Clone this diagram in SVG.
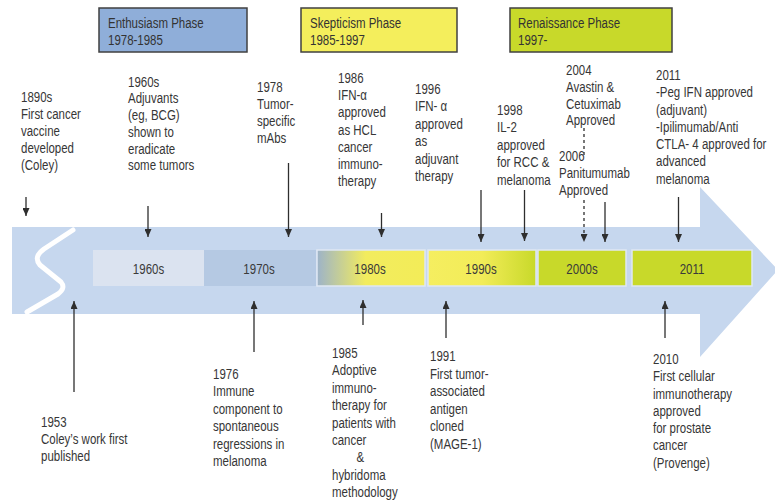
<svg xmlns="http://www.w3.org/2000/svg" width="775" height="502" viewBox="0 0 775 502">
<defs>
<style>
.t{font-family:"Liberation Sans",Arial,sans-serif;font-size:14px;fill:#363636}
.ph{font-family:"Liberation Sans",Arial,sans-serif;font-size:14px;fill:#333}
.bt{font-family:"Liberation Sans",Arial,sans-serif;font-size:14px;fill:#3a3a3a;text-anchor:middle}
.c{stroke:#2e2e2e;stroke-width:1.3;fill:none}
.d{stroke-dasharray:3,3}
.box{stroke:#404040;stroke-width:1.5}
</style>
<marker id="ah" markerUnits="userSpaceOnUse" markerWidth="8" markerHeight="7" refX="8" refY="3.5" orient="auto">
<path d="M0,0 L8,3.5 L0,7 z" fill="#2e2e2e"/>
</marker>
<linearGradient id="g80" x1="0" y1="0" x2="1" y2="0">
<stop offset="0" stop-color="#9db3c9"/>
<stop offset="0.45" stop-color="#f2ec5e"/>
<stop offset="1" stop-color="#f3ec58"/>
</linearGradient>
<linearGradient id="g90" x1="0" y1="0" x2="1" y2="0">
<stop offset="0" stop-color="#f5ee60"/>
<stop offset="0.5" stop-color="#f2ec58"/>
<stop offset="1" stop-color="#c8d92a"/>
</linearGradient>
</defs>
<rect width="775" height="502" fill="#fff"/>

<g id="timeline-arrow">
<path d="M12,227 L700,227 L700,187 L778,270 L700,357 L700,314 L12,314 Z" fill="#c6d7ee"/>
<path d="M73,230 L44,249 Q33,257 40,265 L61,282 Q66,288 58,294 L27,312" fill="none" stroke="#fff" stroke-width="5" stroke-linecap="round" stroke-linejoin="round"/>
</g>

<g id="bar-1960s"><rect x="93" y="250" width="111" height="36" fill="#dbe3f0"/><text class="bt" transform="matrix(0.82,0,0,1,148.5,273.5)">1960s</text></g>
<g id="bar-1970s"><rect x="204" y="250" width="112" height="36" fill="#b5c9e3"/><text class="bt" transform="matrix(0.82,0,0,1,259,273.5)">1970s</text></g>
<g id="bar-1980s"><rect x="317" y="250" width="108" height="36" fill="url(#g80)" stroke="#dfe8f3" stroke-width="1.5"/><text class="bt" transform="matrix(0.82,0,0,1,370,273.5)">1980s</text></g>
<g id="bar-1990s"><rect x="428" y="250" width="108" height="36" fill="url(#g90)" stroke="#dfe8f3" stroke-width="1.5"/><text class="bt" transform="matrix(0.82,0,0,1,481,273.5)">1990s</text></g>
<g id="bar-2000s"><rect x="538" y="250" width="88" height="36" fill="#c8d92a" stroke="#dfe8f3" stroke-width="1.5"/><text class="bt" transform="matrix(0.82,0,0,1,582,273.5)">2000s</text></g>
<g id="bar-2011"><rect x="632" y="250" width="120" height="36" fill="#c8d92a" stroke="#dfe8f3" stroke-width="1.5"/><text class="bt" transform="matrix(0.82,0,0,1,692,273.5)">2011</text></g>

<g id="phase-enthusiasm"><rect class="box" x="99" y="8" width="148" height="44" fill="#8faed9"/><text class="ph" transform="matrix(0.82,0,0,1,108,28)"><tspan x="0" y="0">Enthusiasm Phase</tspan><tspan x="0" y="17">1978-1985</tspan></text></g>
<g id="phase-skepticism"><rect class="box" x="301" y="8" width="156" height="44" fill="#f4ee5c"/><text class="ph" transform="matrix(0.82,0,0,1,310,28)"><tspan x="0" y="0">Skepticism Phase</tspan><tspan x="0" y="17">1985-1997</tspan></text></g>
<g id="phase-renaissance"><rect class="box" x="510" y="8" width="162" height="44" fill="#c8d92a"/><text class="ph" transform="matrix(0.82,0,0,1,518,28)"><tspan x="0" y="0">Renaissance Phase</tspan><tspan x="0" y="17">1997-</tspan></text></g>

<g id="ev-1890s"><text class="t" transform="matrix(0.82,0,0,1,21,102)"><tspan x="0" y="0">1890s</tspan><tspan x="0" dy="17">First  cancer</tspan><tspan x="0" dy="17">vaccine</tspan><tspan x="0" dy="17">developed</tspan><tspan x="0" dy="17">(Coley)</tspan></text></g>
<g id="ev-1960s"><text class="t" transform="matrix(0.82,0,0,1,128,86.5)"><tspan x="0" y="0">1960s</tspan><tspan x="0" dy="16.8">Adjuvants</tspan><tspan x="0" dy="16.8">(eg, BCG)</tspan><tspan x="0" dy="16.8">shown to</tspan><tspan x="0" dy="16.8">eradicate</tspan><tspan x="0" dy="16.8">some tumors</tspan></text></g>
<g id="ev-1978"><text class="t" transform="matrix(0.82,0,0,1,257,92)"><tspan x="0" y="0">1978</tspan><tspan x="0" dy="17">Tumor-</tspan><tspan x="0" dy="17">specific</tspan><tspan x="0" dy="17">mAbs</tspan></text></g>
<g id="ev-1986"><text class="t" transform="matrix(0.82,0,0,1,338,83)"><tspan x="0" y="0">1986</tspan><tspan x="0" dy="17.2">IFN-α</tspan><tspan x="0" dy="17.2">approved</tspan><tspan x="0" dy="17.2">as HCL</tspan><tspan x="0" dy="17.2">cancer</tspan><tspan x="0" dy="17.2">immuno-</tspan><tspan x="0" dy="17.2">therapy</tspan></text></g>
<g id="ev-1996"><text class="t" transform="matrix(0.82,0,0,1,415,94)"><tspan x="0" y="0">1996</tspan><tspan x="0" dy="17.4">IFN- α</tspan><tspan x="0" dy="17.4">approved</tspan><tspan x="0" dy="17.4">as</tspan><tspan x="0" dy="17.4">adjuvant</tspan><tspan x="0" dy="17.4">therapy</tspan></text></g>
<g id="ev-1998"><text class="t" transform="matrix(0.82,0,0,1,497,115)"><tspan x="0" y="0">1998</tspan><tspan x="0" dy="17.5">IL-2</tspan><tspan x="0" dy="17.5">approved</tspan><tspan x="0" dy="17.5">for RCC &amp;</tspan><tspan x="0" dy="17.5">melanoma</tspan></text></g>
<g id="ev-2004"><text class="t" transform="matrix(0.82,0,0,1,566,75)"><tspan x="0" y="0">2004</tspan><tspan x="0" dy="16.8">Avastin  &amp;</tspan><tspan x="0" dy="16.8">Cetuximab</tspan><tspan x="0" dy="16.8">Approved</tspan></text></g>
<g id="ev-2006"><text class="t" transform="matrix(0.82,0,0,1,559,161)"><tspan x="0" y="0">2006</tspan><tspan x="0" dy="17.2">Panitumumab</tspan><tspan x="0" dy="17.2">Approved</tspan></text></g>
<g id="ev-2011"><text class="t" transform="matrix(0.82,0,0,1,656,80)"><tspan x="0" y="0">2011</tspan><tspan x="0" dy="17.3">-Peg IFN approved</tspan><tspan x="0" dy="17.3">(adjuvant)</tspan><tspan x="0" dy="17.3">-Ipilimumab/Anti</tspan><tspan x="0" dy="17.3">CTLA- 4 approved for</tspan><tspan x="0" dy="17.3">advanced</tspan><tspan x="0" dy="17.3">melanoma</tspan></text></g>

<g id="ev-1953"><text class="t" transform="matrix(0.82,0,0,1,41,427)"><tspan x="0" y="0">1953</tspan><tspan x="0" dy="17">Coley’s work first</tspan><tspan x="0" dy="17">published</tspan></text></g>
<g id="ev-1976"><text class="t" transform="matrix(0.82,0,0,1,213,379)"><tspan x="0" y="0">1976</tspan><tspan x="0" dy="17.4">Immune</tspan><tspan x="0" dy="17.4">component to</tspan><tspan x="0" dy="17.4">spontaneous</tspan><tspan x="0" dy="17.4">regressions in</tspan><tspan x="0" dy="17.4">melanoma</tspan></text></g>
<g id="ev-1985"><text class="t" transform="matrix(0.82,0,0,1,332,358)"><tspan x="0" y="0">1985</tspan><tspan x="0" dy="17.4">Adoptive</tspan><tspan x="0" dy="17.4">immuno-</tspan><tspan x="0" dy="17.4">therapy for</tspan><tspan x="0" dy="17.4">patients with</tspan><tspan x="0" dy="17.4">cancer</tspan><tspan x="30" dy="17.4">&amp;</tspan><tspan x="0" dy="17.4">hybridoma</tspan><tspan x="0" dy="17.4">methodology</tspan></text></g>
<g id="ev-1991"><text class="t" transform="matrix(0.82,0,0,1,430,361)"><tspan x="0" y="0">1991</tspan><tspan x="0" dy="17.6">First tumor-</tspan><tspan x="0" dy="17.6">associated</tspan><tspan x="0" dy="17.6">antigen</tspan><tspan x="0" dy="17.6">cloned</tspan><tspan x="0" dy="17.6">(MAGE-1)</tspan></text></g>
<g id="ev-2010"><text class="t" transform="matrix(0.82,0,0,1,653,364)"><tspan x="0" y="0">2010</tspan><tspan x="0" dy="17.3">First cellular</tspan><tspan x="0" dy="17.3">immunotherapy</tspan><tspan x="0" dy="17.3">approved</tspan><tspan x="0" dy="17.3">for prostate</tspan><tspan x="0" dy="17.3">cancer</tspan><tspan x="0" dy="17.3">(Provenge)</tspan></text></g>

<g id="connectors">
<line class="c" x1="26" y1="197" x2="26" y2="216" marker-end="url(#ah)"/>
<line class="c" x1="148" y1="206" x2="148" y2="237" marker-end="url(#ah)"/>
<line class="c" x1="288.5" y1="163" x2="288.5" y2="237" marker-end="url(#ah)"/>
<line class="c" x1="381.5" y1="213" x2="381.5" y2="237" marker-end="url(#ah)"/>
<line class="c" x1="481" y1="190" x2="481" y2="242" marker-end="url(#ah)"/>
<line class="c" x1="524.5" y1="190" x2="524.5" y2="241" marker-end="url(#ah)"/>
<line class="c d" x1="584" y1="128" x2="584" y2="155"/>
<line class="c d" x1="584" y1="200" x2="584" y2="242" marker-end="url(#ah)"/>
<line class="c" x1="605" y1="202" x2="605" y2="242" marker-end="url(#ah)"/>
<line class="c" x1="678.5" y1="197" x2="678.5" y2="242" marker-end="url(#ah)"/>
<line class="c" x1="74" y1="392" x2="74" y2="301" marker-end="url(#ah)"/>
<line class="c" x1="254" y1="352" x2="254" y2="301" marker-end="url(#ah)"/>
<line class="c" x1="363" y1="325" x2="363" y2="300" marker-end="url(#ah)"/>
<line class="c" x1="446" y1="338" x2="446" y2="301" marker-end="url(#ah)"/>
<line class="c" x1="665" y1="338" x2="665" y2="301" marker-end="url(#ah)"/>
</g>
</svg>
